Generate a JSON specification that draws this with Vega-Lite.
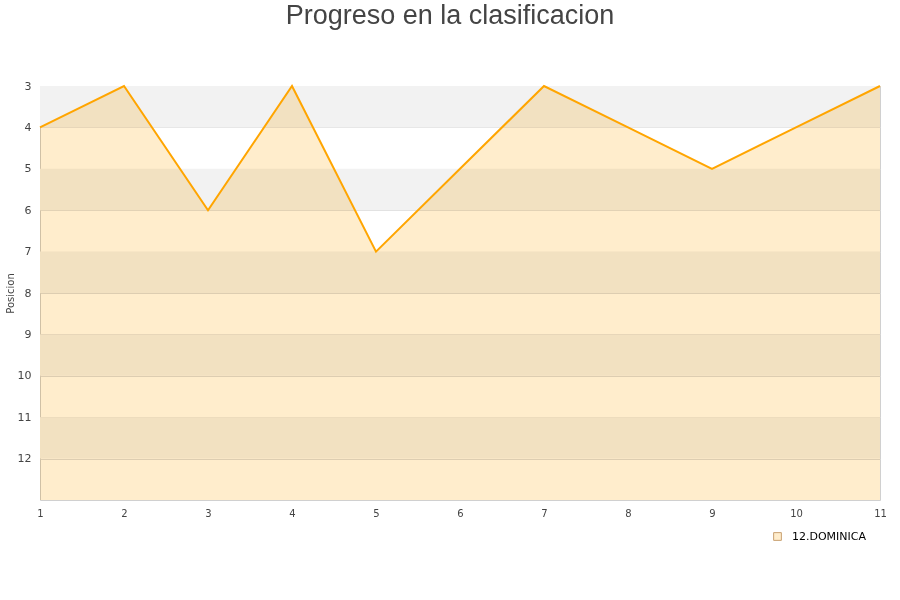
{
  "$schema": "https://vega.github.io/schema/vega-lite/v6.json",
  "autosize": "none",
  "width": 840,
  "height": 414,
  "padding": {"left": 40, "top": 86, "right": 20, "bottom": 100},
  "background": "white",
  "title": {
    "text": "Progreso en la clasificacion",
    "fontSize": 27,
    "font": "Liberation Sans",
    "fontWeight": "normal",
    "color": "#444444",
    "anchor": "middle",
    "dx": -10,
    "offset": 50
  },
  "config": {
    "font": "DejaVu Sans",
    "view": {"stroke": "#d0d0d0", "strokeWidth": 1},
    "axis": {
      "labelColor": "#444444",
      "titleColor": "#444444",
      "domain": false,
      "ticks": false,
      "gridColor": "#dddddd"
    }
  },
  "datasets": {
    "bands": [
      {"from": 3, "to": 4},
      {"from": 5, "to": 6},
      {"from": 7, "to": 8},
      {"from": 9, "to": 10},
      {"from": 11, "to": 12}
    ],
    "progress": [
      {"jornada": 1, "posicion": 4, "equipo": "12.DOMINICA"},
      {"jornada": 2, "posicion": 3, "equipo": "12.DOMINICA"},
      {"jornada": 3, "posicion": 6, "equipo": "12.DOMINICA"},
      {"jornada": 4, "posicion": 3, "equipo": "12.DOMINICA"},
      {"jornada": 5, "posicion": 7, "equipo": "12.DOMINICA"},
      {"jornada": 6, "posicion": 5, "equipo": "12.DOMINICA"},
      {"jornada": 7, "posicion": 3, "equipo": "12.DOMINICA"},
      {"jornada": 8, "posicion": 4, "equipo": "12.DOMINICA"},
      {"jornada": 9, "posicion": 5, "equipo": "12.DOMINICA"},
      {"jornada": 10, "posicion": 4, "equipo": "12.DOMINICA"},
      {"jornada": 11, "posicion": 3, "equipo": "12.DOMINICA"}
    ]
  },
  "layer": [
    {
      "data": {"name": "bands"},
      "mark": {"type": "rect", "fill": "#f2f2f2"},
      "encoding": {
        "y": {"field": "from", "type": "quantitative"},
        "y2": {"field": "to"}
      }
    },
    {
      "data": {"name": "progress"},
      "mark": {"type": "area", "blend": "multiply", "orient": "vertical", "stroke": "#c8a070", "strokeWidth": 0},
      "encoding": {
        "x": {
          "field": "jornada",
          "type": "quantitative",
          "scale": {"domain": [1, 11], "nice": false},
          "axis": {"values": [1,2,3,4,5,6,7,8,9,10,11], "format": "d", "title": null, "grid": false, "labelFontSize": 10, "labelPadding": 8, "labelFlush": false}
        },
        "y": {
          "field": "posicion",
          "type": "quantitative",
          "stack": null,
          "scale": {"domain": [3, 13], "reverse": true, "nice": false, "zero": false},
          "axis": {"values": [3,4,5,6,7,8,9,10,11,12], "format": "d", "title": "Posicion", "titleFontSize": 10, "titleFontWeight": "normal", "labelFontSize": 11, "labelPadding": 9, "titlePadding": 2}
        },
        "y2": {"datum": 13},
        "fill": {
          "field": "equipo",
          "type": "nominal",
          "scale": {"range": ["#ffedcc"]},
          "legend": {
            "orient": "none",
            "legendX": 732,
            "legendY": 445,
            "title": null,
            "symbolType": "square",
            "symbolSize": 60,
            "symbolStrokeColor": "#c8a070",
            "symbolStrokeWidth": 1,
            "labelFontSize": 11,
            "labelOffset": 9,
            "labelColor": "#000000"
          }
        }
      }
    },
    {
      "data": {"name": "progress"},
      "mark": {"type": "line", "color": "#ffa500", "strokeWidth": 2},
      "encoding": {
        "x": {"field": "jornada", "type": "quantitative"},
        "y": {"field": "posicion", "type": "quantitative"}
      }
    }
  ]
}
